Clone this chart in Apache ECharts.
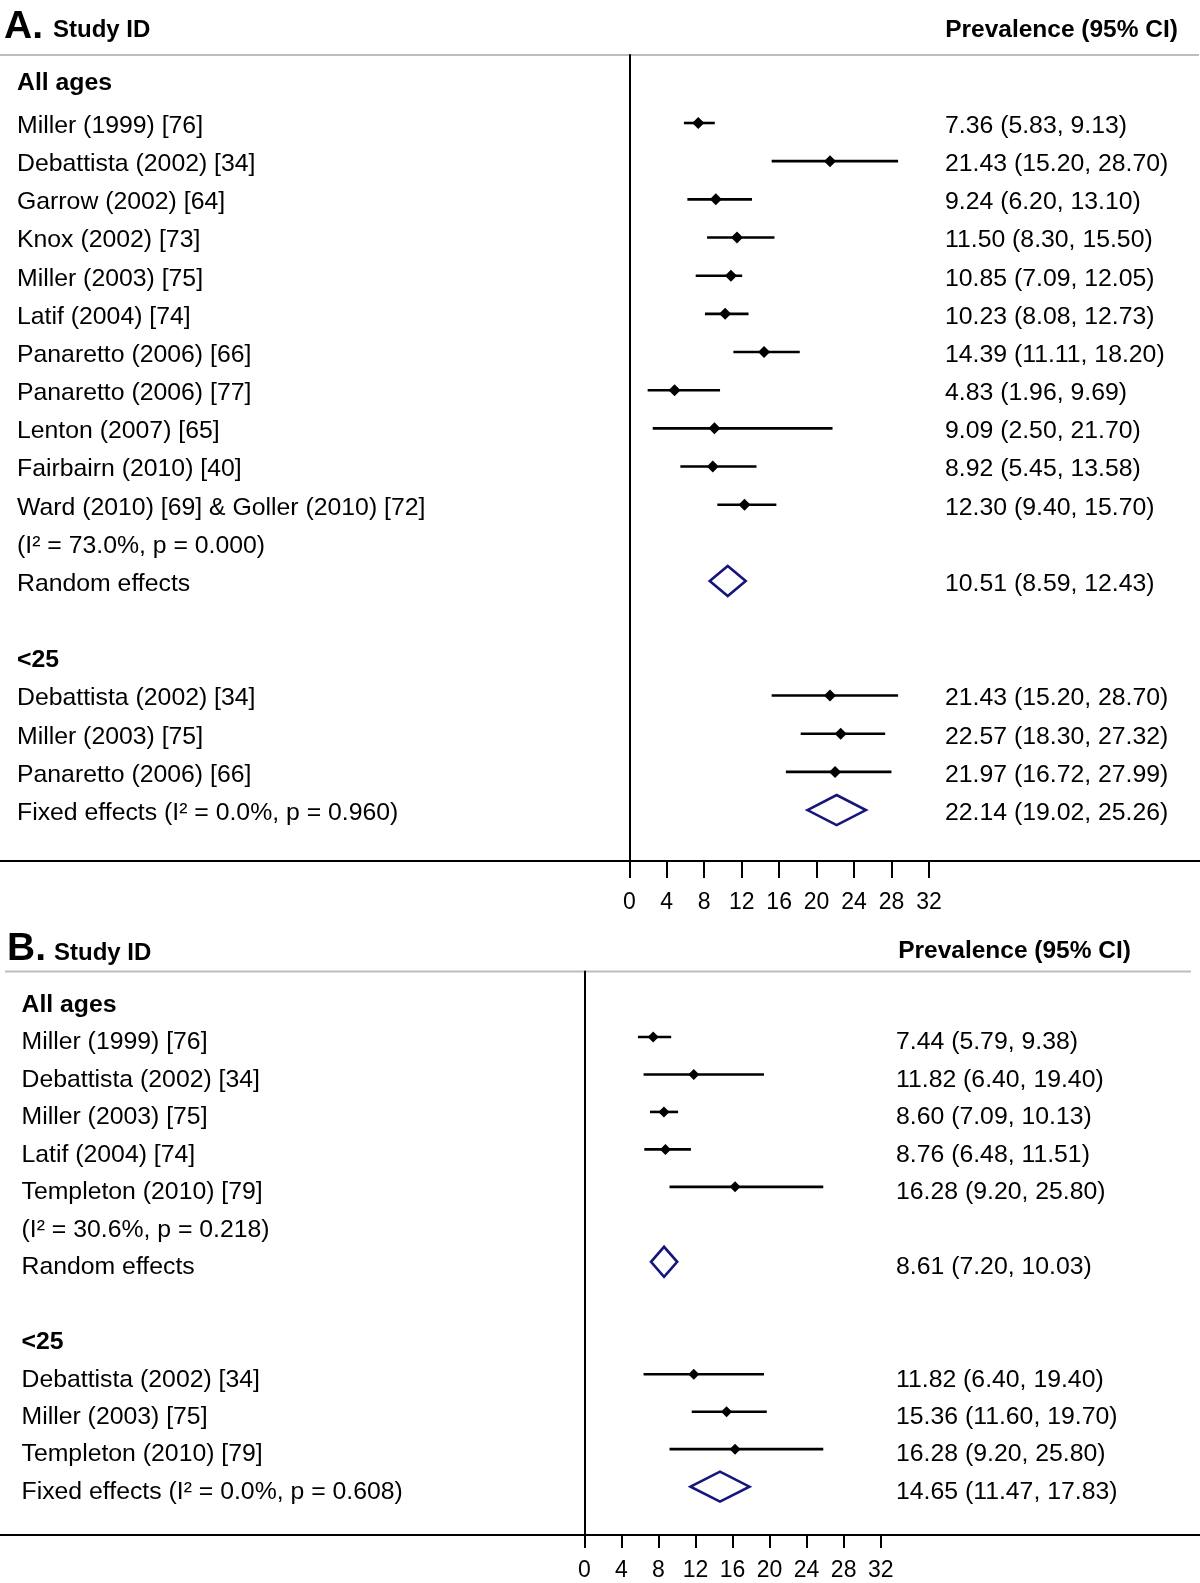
<!DOCTYPE html>
<html>
<head>
<meta charset="utf-8">
<script src="https://cdn.jsdelivr.net/npm/echarts@6/dist/echarts.min.js"></script>
<style>
  html, body { margin: 0; padding: 0; background: #fff; }
  #chart { width: 1200px; height: 1583px; }
</style>
</head>
<body>
<div id="chart"></div>
<script>
const FONT = '"Liberation Sans", Arial, Helvetica, sans-serif';

// ---- panel A: one entry per row, null where the row has no estimate
const studyA = [
  'All ages',
  'Miller (1999) [76]',
  'Debattista (2002) [34]',
  'Garrow (2002) [64]',
  'Knox (2002) [73]',
  'Miller (2003) [75]',
  'Latif (2004) [74]',
  'Panaretto (2006) [66]',
  'Panaretto (2006) [77]',
  'Lenton (2007) [65]',
  'Fairbairn (2010) [40]',
  'Ward (2010) [69] & Goller (2010) [72]',
  '(I\u00b2 = 73.0%, p = 0.000)',
  'Random effects',
  '',
  '<25',
  'Debattista (2002) [34]',
  'Miller (2003) [75]',
  'Panaretto (2006) [66]',
  'Fixed effects (I\u00b2 = 0.0%, p = 0.960)'
];
const estA  = [null, 7.36, 21.43, 9.24, 11.50, 10.85, 10.23, 14.39, 4.83, 9.09, 8.92, 12.30, null, 10.51, null, null, 21.43, 22.57, 21.97, 22.14];
const lowA  = [null, 5.83, 15.20, 6.20, 8.30, 7.09, 8.08, 11.11, 1.96, 2.50, 5.45, 9.40, null, 8.59, null, null, 15.20, 18.30, 16.72, 19.02];
const highA = [null, 9.13, 28.70, 13.10, 15.50, 12.05, 12.73, 18.20, 9.69, 21.70, 13.58, 15.70, null, 12.43, null, null, 28.70, 27.32, 27.99, 25.26];
const pooledA = [13, 19];
const headerA = [0, 15];

// ---- panel B
const studyB = [
  'All ages',
  'Miller (1999) [76]',
  'Debattista (2002) [34]',
  'Miller (2003) [75]',
  'Latif (2004) [74]',
  'Templeton (2010) [79]',
  '(I\u00b2 = 30.6%, p = 0.218)',
  'Random effects',
  '',
  '<25',
  'Debattista (2002) [34]',
  'Miller (2003) [75]',
  'Templeton (2010) [79]',
  'Fixed effects (I\u00b2 = 0.0%, p = 0.608)'
];
const estB  = [null, 7.44, 11.82, 8.60, 8.76, 16.28, null, 8.61, null, null, 11.82, 15.36, 16.28, 14.65];
const lowB  = [null, 5.79, 6.40, 7.09, 6.48, 9.20, null, 7.20, null, null, 6.40, 11.60, 9.20, 11.47];
const highB = [null, 9.38, 19.40, 10.13, 11.51, 25.80, null, 10.03, null, null, 19.40, 19.70, 25.80, 17.83];
const pooledB = [7, 13];
const headerB = [0, 9];

const xMin = 0, xMax = 32, xStep = 4;

// layout of each panel (pixels) -- kept apart from the data
const panels = [
  { name: 'A', study: studyA, est: estA, low: lowA, high: highA, pooled: pooledA, header: headerA,
    grid: { left: 629.3, right: 271, top: 55, bottom: 722 },
    yMin: -0.7815, yMax: 20.334, textX: 17, ciX: 945, dot: 6, tick: 17, labMargin: 30,
    textDy: 3, headerDy: [-2, 3],
    topRule: [0, 1199, 55], bottomRule: [0, 1200, 861],
    letter: [4, 47], studyId: [53, 42], prevRight: [1178, 43] },
  { name: 'B', study: studyB, est: estB, low: lowB, high: highB, pooled: pooledB, header: headerB,
    grid: { left: 584.3, right: 319.3, top: 971.5, bottom: 48 },
    yMin: -0.748, yMax: 14.291, textX: 21.5, ciX: 896, dot: 5.5, tick: 13, labMargin: 24,
    textDy: 5.5, headerDy: [6, 5.5],
    topRule: [5, 1191, 971.5], bottomRule: [0, 1200, 1535],
    letter: [7, 969], studyId: [54, 965], prevRight: [1131, 964] }
];

function fmt(v) { return v.toFixed(2); }

function ciRender(size) {
  return function (params, api) {
    const row = api.value(0);
    const a = api.coord([api.value(1), row]);
    const b = api.coord([api.value(2), row]);
    const c = api.coord([api.value(3), row]);
    return {
      type: 'group',
      children: [
        { type: 'line', shape: { x1: a[0], y1: a[1], x2: b[0], y2: b[1] },
          style: { stroke: '#000', lineWidth: 2.6 } },
        { type: 'polygon',
          shape: { points: [[c[0] - size, c[1]], [c[0], c[1] - size], [c[0] + size, c[1]], [c[0], c[1] + size]] },
          style: { fill: '#000' } }
      ]
    };
  };
}

function pooledRender(params, api) {
  const row = api.value(0);
  const a = api.coord([api.value(1), row]);
  const b = api.coord([api.value(2), row]);
  const c = api.coord([api.value(3), row]);
  const h = 15;
  return {
    type: 'polygon',
    shape: { points: [[a[0], a[1]], [c[0], c[1] - h], [b[0], b[1]], [c[0], c[1] + h]] },
    style: { fill: '#fff', stroke: '#15157a', lineWidth: 2.6 }
  };
}

// text column: y comes from the row scale, dy is a small per-row nudge
function textRender(x, texts, bolds, dys) {
  return function (params, api) {
    const row = api.value(0);
    const p = api.coord([0, row]);
    const i = params.dataIndex;
    return {
      type: 'text',
      x: x, y: p[1] + dys[i],
      style: {
        text: texts[i],
        fill: '#000',
        font: (bolds[i] ? 'bold ' : '') + '24.8px ' + FONT,
        align: 'left', verticalAlign: 'middle'
      }
    };
  };
}

const grids = [], xAxes = [], yAxes = [], series = [], graphics = [];

panels.forEach(function (pn, k) {
  grids.push(pn.grid);
  xAxes.push({
    gridIndex: k, type: 'value', min: xMin, max: xMax, interval: xStep,
    axisLine: { show: true, onZero: false, lineStyle: { color: '#000', width: 2 } },
    axisTick: { show: true, length: pn.tick, lineStyle: { color: '#000', width: 2 } },
    axisLabel: { color: '#000', fontSize: 23, fontFamily: FONT, margin: pn.labMargin },
    splitLine: { show: false }
  });
  yAxes.push({
    gridIndex: k, type: 'value', inverse: true, min: pn.yMin, max: pn.yMax,
    axisLine: { show: true, onZero: false, lineStyle: { color: '#000', width: 2 } },
    axisTick: { show: false }, axisLabel: { show: false }, splitLine: { show: false }
  });

  const ciData = [], poolData = [];
  const labData = [], labText = [], labBold = [], labDy = [];
  const valData = [], valText = [], valBold = [], valDy = [];
  pn.study.forEach(function (name, i) {
    if (name !== '') {
      const h = pn.header.indexOf(i);
      labData.push([i, 0]);
      labText.push(name);
      labBold.push(h >= 0);
      labDy.push(h >= 0 ? pn.headerDy[h] : pn.textDy);
    }
    if (pn.est[i] !== null) {
      const item = [i, pn.low[i], pn.high[i], pn.est[i]];
      if (pn.pooled.indexOf(i) >= 0) poolData.push(item); else ciData.push(item);
      valData.push([i, 0]);
      valText.push(fmt(pn.est[i]) + ' (' + fmt(pn.low[i]) + ', ' + fmt(pn.high[i]) + ')');
      valBold.push(false);
      valDy.push(pn.textDy);
    }
  });

  series.push({
    type: 'custom', xAxisIndex: k, yAxisIndex: k, clip: false, silent: true,
    encode: { x: [1, 2, 3], y: 0 }, data: ciData, renderItem: ciRender(pn.dot)
  });
  series.push({
    type: 'custom', xAxisIndex: k, yAxisIndex: k, clip: false, silent: true,
    encode: { x: [1, 2, 3], y: 0 }, data: poolData, renderItem: pooledRender
  });
  series.push({
    type: 'custom', xAxisIndex: k, yAxisIndex: k, clip: false, silent: true,
    encode: { x: 1, y: 0 }, data: labData, renderItem: textRender(pn.textX, labText, labBold, labDy)
  });
  series.push({
    type: 'custom', xAxisIndex: k, yAxisIndex: k, clip: false, silent: true,
    encode: { x: 1, y: 0 }, data: valData, renderItem: textRender(pn.ciX, valText, valBold, valDy)
  });

  // rules and headers
  graphics.push({ type: 'line', shape: { x1: pn.topRule[0], y1: pn.topRule[2], x2: pn.topRule[1], y2: pn.topRule[2] },
    style: { stroke: '#bdbdbd', lineWidth: 2 } });
  graphics.push({ type: 'line', shape: { x1: pn.bottomRule[0], y1: pn.bottomRule[2], x2: pn.bottomRule[1], y2: pn.bottomRule[2] },
    style: { stroke: '#000', lineWidth: 2 } });
  graphics.push({ type: 'text', x: pn.letter[0], y: pn.letter[1],
    style: { text: pn.name + '.', font: 'bold 39px ' + FONT, fill: '#000', align: 'left', verticalAlign: 'bottom' } });
  graphics.push({ type: 'text', x: pn.studyId[0], y: pn.studyId[1],
    style: { text: 'Study ID', font: 'bold 24px ' + FONT, fill: '#000', align: 'left', verticalAlign: 'bottom' } });
  graphics.push({ type: 'text', x: pn.prevRight[0], y: pn.prevRight[1],
    style: { text: 'Prevalence (95% CI)', font: 'bold 24.5px ' + FONT, fill: '#000', align: 'right', verticalAlign: 'bottom' } });
});

const chart = echarts.init(document.getElementById('chart'));
chart.setOption({
  animation: false,
  backgroundColor: '#fff',
  grid: grids,
  xAxis: xAxes,
  yAxis: yAxes,
  series: series,
  graphic: graphics
});
</script>
</body>
</html>
